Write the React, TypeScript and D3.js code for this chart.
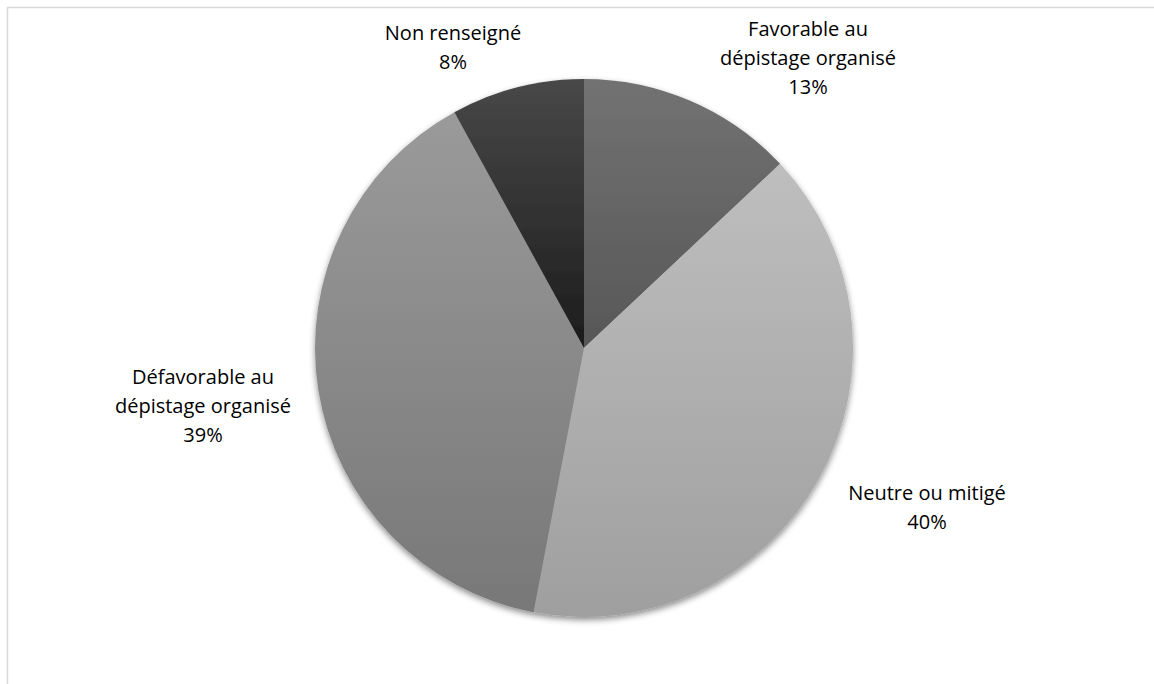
import * as d3 from "d3";
import { useEffect, useRef } from "react";

// chart values
const labels = [
  ["Favorable au", "dépistage organisé"],
  ["Neutre ou mitigé"],
  ["Défavorable au", "dépistage organisé"],
  ["Non renseigné"],
];
const values = [13, 40, 39, 8];
const pctLabels = ["13%", "40%", "39%", "8%"];

// gradient stops, top -> bottom
const topColors = ["#727272", "#bebebe", "#9a9a9a", "#484848"];
const bottomColors = ["#575757", "#9f9f9f", "#787878", "#1c1c1c"];

// label block centers (layout only)
const labelCenters: [number, number][] = [
  [808, 58],
  [927, 507],
  [203, 406],
  [453, 47],
];

export default function App() {
  const svgRef = useRef<SVGSVGElement | null>(null);

  useEffect(() => {
    if (!svgRef.current) return;
    const W = 1154;
    const H = 684;
    const svg = d3.select(svgRef.current);
    svg.attr("width", W).attr("height", H);
    svg.selectAll("*").remove();

    const defs = svg.append("defs");
    values.forEach((_, i) => {
      const lg = defs
        .append("linearGradient")
        .attr("id", `grad${i}`)
        .attr("x1", 0)
        .attr("y1", 0)
        .attr("x2", 0)
        .attr("y2", 1);
      lg.append("stop").attr("offset", "0%").attr("stop-color", topColors[i]);
      lg.append("stop").attr("offset", "100%").attr("stop-color", bottomColors[i]);
    });

    const filter = defs
      .append("filter")
      .attr("id", "shadow")
      .attr("x", "-10%")
      .attr("y", "-10%")
      .attr("width", "120%")
      .attr("height", "120%");
    filter
      .append("feDropShadow")
      .attr("dx", 0)
      .attr("dy", 3)
      .attr("stdDeviation", 3)
      .attr("flood-color", "#000")
      .attr("flood-opacity", 0.45);

    // frame
    svg
      .append("rect")
      .attr("x", 7.5)
      .attr("y", 7.5)
      .attr("width", W + 20)
      .attr("height", H + 20)
      .attr("fill", "#fff")
      .attr("stroke", "#d9d9d9")
      .attr("stroke-width", 1.5);

    const cx = 584;
    const cy = 348;
    const r = 269;

    const pie = d3.pie<number>().sort(null).value((d) => d);
    const arc = d3.arc<d3.PieArcDatum<number>>().innerRadius(0).outerRadius(r);

    const g = svg
      .append("g")
      .attr("transform", `translate(${cx},${cy})`)
      .attr("filter", "url(#shadow)");

    g.selectAll("path")
      .data(pie(values))
      .join("path")
      .attr("d", arc)
      .attr("fill", (_, i) => `url(#grad${i})`);

    const lineH = 29;
    labels.forEach((lines, i) => {
      const all = [...lines, pctLabels[i]];
      const [lx, ly] = labelCenters[i];
      const t = svg
        .append("text")
        .attr("text-anchor", "middle")
        .attr("font-family", "'Open Sans', sans-serif")
        .attr("font-size", 20)
        .attr("fill", "#000");
      all.forEach((s, k) => {
        t.append("tspan")
          .attr("x", lx)
          .attr("y", ly + (k - (all.length - 1) / 2) * lineH)
          .attr("dy", "0.35em")
          .text(s);
      });
    });
  }, []);

  return (
    <svg
      ref={svgRef}
      style={{ position: "absolute", left: 0, top: 0, display: "block" }}
    />
  );
}
